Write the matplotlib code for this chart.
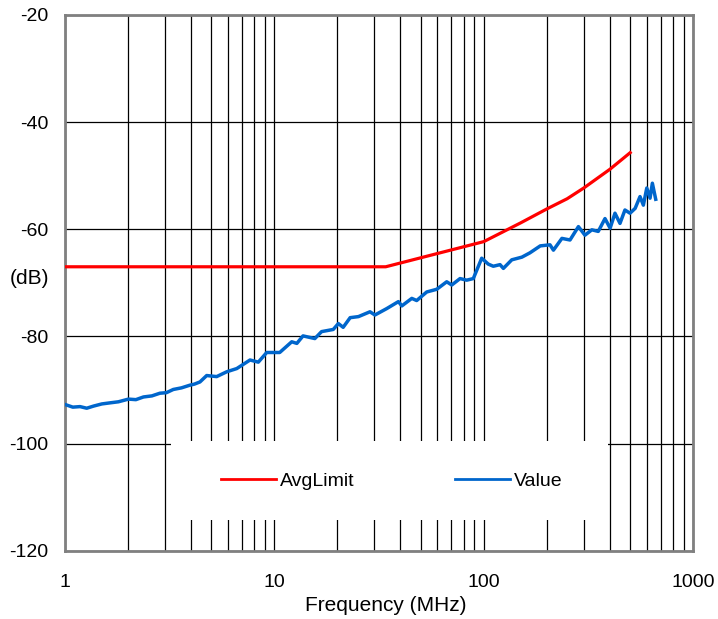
import matplotlib
matplotlib.use("Agg")
import matplotlib.pyplot as plt
from matplotlib.patches import Rectangle

plt.rcParams['font.family'] = ['Liberation Sans', 'DejaVu Sans']
plt.rcParams['axes.unicode_minus'] = False

# limit line (MHz, dB)
limit_freq = [1, 34, 100, 150, 200, 250, 300, 400, 500]
limit_db = [-67.0, -67.0, -62.3, -58.8, -56.2, -54.3, -52.3, -48.8, -45.7]

# measured trace (MHz, dB)
meas_freq = [1.00, 1.09, 1.18, 1.27, 1.37, 1.50, 1.64, 1.80, 2.01, 2.18, 2.37,
             2.60, 2.84, 3.05, 3.29, 3.60, 3.95, 4.15, 4.41, 4.75, 5.30, 5.92,
             6.61, 7.65, 8.38, 9.19, 10.6, 12.1, 12.8, 13.7, 15.6, 16.8, 19.1,
             20.2, 21.3, 23.0, 25.2, 28.6, 30.2, 34.4, 39.1, 40.6, 45.3, 47.8,
             53.4, 59.6, 66.5, 70.3, 77.0, 82.8, 89.1, 97.7, 105, 111, 119.5,
             124, 136, 152, 166, 186, 207, 215, 236, 258, 283, 304, 328, 352,
             379, 401, 423, 447, 472, 499, 528, 557, 578, 600, 622, 638, 662]
meas_db = [-92.7, -93.2, -93.1, -93.4, -93.0, -92.6, -92.4, -92.2, -91.7, -91.8, -91.3,
           -91.1, -90.6, -90.5, -89.9, -89.6, -89.1, -88.9, -88.5, -87.3, -87.5, -86.6,
           -86.0, -84.4, -84.8, -83.0, -83.0, -81.0, -81.3, -79.9, -80.4, -79.1, -78.7,
           -77.6, -78.3, -76.5, -76.3, -75.4, -76.0, -74.8, -73.5, -74.3, -72.9, -73.3,
           -71.7, -71.2, -69.8, -70.4, -69.2, -69.5, -69.2, -65.4, -66.5, -66.9, -66.6,
           -67.3, -65.7, -65.2, -64.4, -63.1, -62.9, -63.9, -61.7, -62.0, -59.5, -61.1, -60.1, -60.4,
           -58.0, -59.8, -57.0, -58.9, -56.4, -57.0, -56.1, -53.9, -55.5, -52.3, -54.2, -51.4, -54.4]

fig = plt.figure(figsize=(7.18, 6.19), dpi=100)
ax = fig.add_axes([0.0905, 0.1103, 0.875, 0.8655])

ax.set_xscale('log')
ax.set_xlim(1, 1000)
ax.set_ylim(-120, -20)
ax.set_yticks([-120, -100, -80, -60, -40, -20])
ax.set_xticks([1, 10, 100, 1000])
ax.set_xticklabels(['1', '10', '100', '1000'])

ax.set_axisbelow(True)
ax.grid(True, which='both', axis='x', color='black', linewidth=0.9)
ax.grid(True, which='major', axis='y', color='black', linewidth=0.9)
ax.tick_params(which='both', length=0, labelsize=14)
ax.tick_params(axis='x', pad=17)
ax.tick_params(axis='y', pad=12)

for s in ax.spines.values():
    s.set_color('#808080')
    s.set_linewidth(2)

# white panel behind the legend
ax.add_patch(Rectangle((0.168, 0.0565), 0.697, 0.148, transform=ax.transAxes,
                       facecolor='white', edgecolor='none', zorder=1))

ax.plot(limit_freq, limit_db, color='#ff0000', linewidth=2.3, label='AvgLimit', zorder=3)
ax.plot(meas_freq, meas_db, color='#0066cc', linewidth=2.5, label='Value', zorder=3)

leg = ax.legend(loc='center', bbox_to_anchor=(0.52, 0.130), ncol=2, frameon=False,
                fontsize=14, handlelength=2.8, handletextpad=0.2, columnspacing=5.2)
for h in leg.get_lines():
    h.set_linewidth(2)

ax.set_xlabel('Frequency (MHz)', fontsize=15, va='center')
ax.xaxis.set_label_coords(0.511, -0.103)
ax.set_ylabel('(dB)', fontsize=15, rotation=0, ha='center', va='center')
ax.yaxis.set_label_coords(-0.057, 0.509)

fig.savefig('out.png', dpi=100)
